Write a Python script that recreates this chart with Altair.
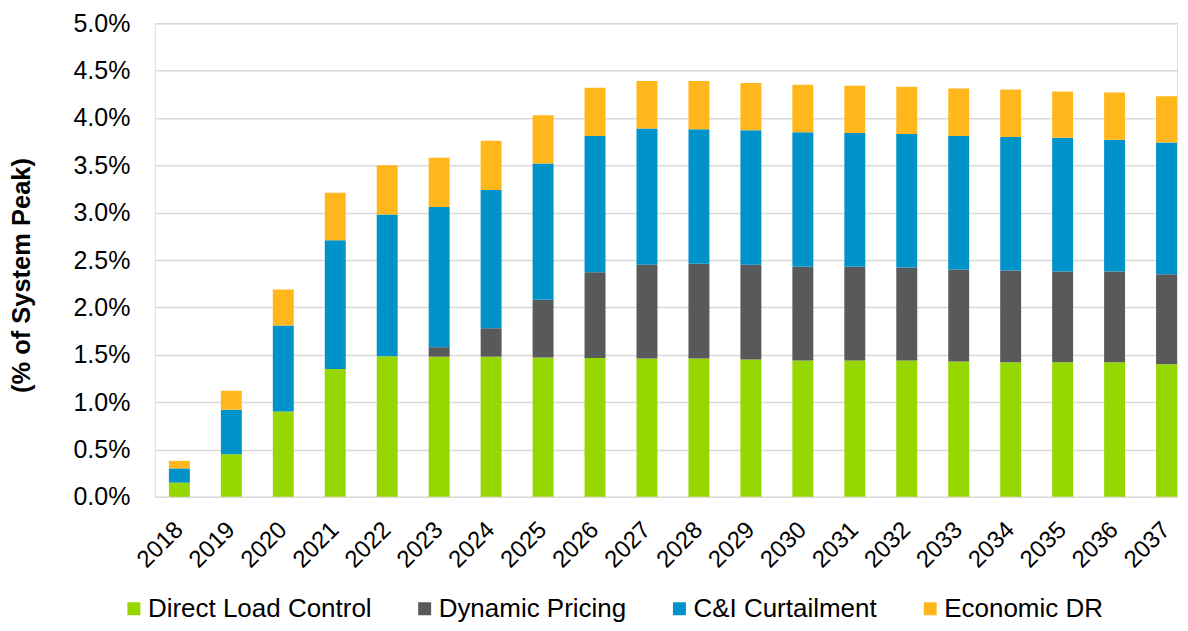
import altair as alt
import pandas as pd

years = [str(y) for y in range(2018, 2038)]
series = ["Direct Load Control", "Dynamic Pricing", "C&I Curtailment", "Economic DR"]
colors = ["#97D700", "#58595B", "#0093C9", "#FFB71B"]

# values in % of system peak
dlc = [0.15, 0.45, 0.90, 1.35, 1.485, 1.48, 1.48, 1.47, 1.465, 1.46,
       1.46, 1.45, 1.44, 1.44, 1.44, 1.43, 1.42, 1.42, 1.42, 1.40]
dp = [0.0, 0.0, 0.0, 0.0, 0.0, 0.10, 0.30, 0.61, 0.905, 0.99,
      1.00, 1.00, 0.99, 0.99, 0.98, 0.97, 0.97, 0.96, 0.96, 0.95]
ci = [0.15, 0.47, 0.91, 1.36, 1.495, 1.48, 1.46, 1.44, 1.44, 1.44,
      1.42, 1.42, 1.42, 1.41, 1.41, 1.41, 1.41, 1.41, 1.39, 1.39]
edr = [0.08, 0.20, 0.38, 0.50, 0.52, 0.52, 0.52, 0.51, 0.51, 0.50,
       0.51, 0.50, 0.50, 0.50, 0.50, 0.50, 0.50, 0.49, 0.50, 0.49]

y_ticks = [0, 0.5, 1.0, 1.5, 2.0, 2.5, 3.0, 3.5, 4.0, 4.5, 5.0]

rows = []
for i, yr in enumerate(years):
    for k, (name, vals) in enumerate(zip(series, [dlc, dp, ci, edr])):
        rows.append({"year": yr, "series": name, "value": vals[i], "order": k})
df = pd.DataFrame(rows)

FONT = "Liberation Sans"

chart = alt.Chart(df).mark_bar().encode(
    x=alt.X(
        "year:N", sort=years, title=None,
        scale=alt.Scale(paddingInner=0.597, paddingOuter=0.135, align=1),
        axis=alt.Axis(labelAngle=-45, labelFontSize=24, labelPadding=29,
                      labelAlign="right", labelBaseline="middle",
                      ticks=False, domain=False, labelColor="#000000",
                      labelFont=FONT),
    ),
    y=alt.Y(
        "value:Q", stack="zero",
        scale=alt.Scale(domain=[0, 5], nice=False),
        axis=alt.Axis(values=y_ticks,
                      labelExpr="format(datum.value, '.1f') + '%'",
                      title="(% of System Peak)", titleFontSize=25.5,
                      titleFontWeight="bold", titleColor="#000000",
                      titleFont=FONT, titleX=-120, titleY=252,
                      labelFontSize=25, labelColor="#000000", labelFont=FONT,
                      labelPadding=25, ticks=False, domain=False,
                      gridColor="#D9D9D9", gridWidth=1.5),
    ),
    color=alt.Color(
        "series:N",
        scale=alt.Scale(domain=series, range=colors),
        legend=alt.Legend(orient="none", legendX=-34, legendY=573,
                          direction="horizontal", title=None,
                          symbolType="square", symbolSize=169,
                          symbolStrokeWidth=0, labelFontSize=26,
                          labelFont=FONT, labelColor="#000000",
                          labelLimit=600, columnPadding=40, labelOffset=1,
                          padding=0),
    ),
    order=alt.Order("order:Q"),
).properties(
    width=1023, height=474,
    autosize=alt.AutoSizeParams(type="none"),
    padding={"left": 147, "top": 15, "right": 3, "bottom": 126},
).configure_view(stroke=None).configure(font=FONT)

chart.save("out.html", embed_options={"renderer": "svg", "actions": False})
